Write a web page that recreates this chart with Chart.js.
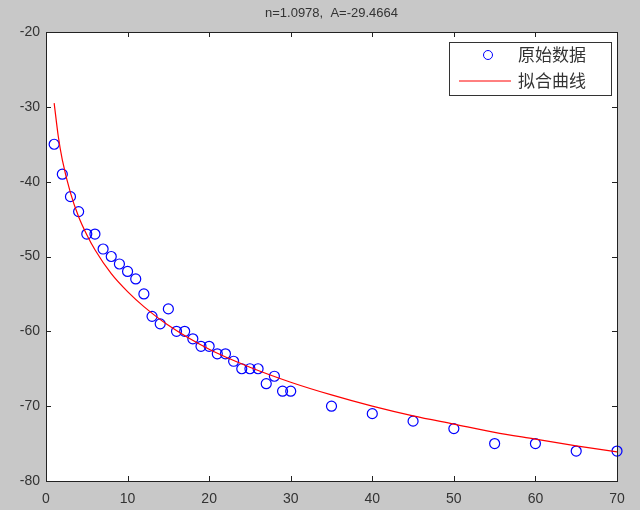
<!DOCTYPE html>
<html>
<head>
<meta charset="utf-8">
<script src="https://cdn.jsdelivr.net/npm/chart.js@4/dist/chart.umd.min.js"></script>
<style>
  html, body { margin: 0; padding: 0; background: #c8c8c8; }
  #wrap { width: 640px; height: 510px; }
</style>
</head>
<body>
<div id="wrap"><canvas id="fitChart"></canvas></div>
<script>
// raw measurements (distance, rssi)
const rawX = [1, 2, 3, 4, 5, 6, 7, 8, 9, 10, 11, 12, 13, 14, 15, 16, 17, 18, 19, 20,
              21, 22, 23, 24, 25, 26, 27, 28, 29, 30, 35, 40, 45, 50, 55, 60, 65, 70];
const rawY = [-35, -39, -42, -44, -47, -47, -49, -50, -51, -52, -53, -55, -58, -59, -57, -60, -60, -61, -62, -62,
              -63, -63, -64, -65, -65, -65, -67, -66, -68, -68, -70, -71, -72, -73, -75, -75, -76, -76];
// fitted curve
const fitX = [1, 1.5, 2, 3, 4, 5, 6, 8, 10, 12, 15, 20, 25, 30, 35, 40, 45, 50, 55, 60, 65, 70];
const fitY = [-29.5, -33.9, -37.1, -41.5, -44.7, -47.1, -49.1, -52.3, -54.7, -56.7, -59.2, -62.4,
              -64.8, -66.8, -68.5, -70.0, -71.3, -72.4, -73.5, -74.4, -75.3, -76.1];
const seriesNames = ['原始数据', '拟合曲线'];
const titleText = 'n=1.0978,  A=-29.4664';

const xTicks = [0, 10, 20, 30, 40, 50, 60, 70];
const yTicks = [-80, -70, -60, -50, -40, -30, -20];

const pts = (xs, ys) => xs.map((x, i) => ({ x: x, y: ys[i] }));

const axesBox = {
  id: 'axesBox',
  beforeDraw(chart) {
    const { ctx, chartArea: a } = chart;
    ctx.save();
    ctx.fillStyle = '#ffffff';
    ctx.fillRect(a.left, a.top, a.right - a.left, a.bottom - a.top);
    ctx.restore();
  },
  afterDraw(chart) {
    const { ctx, chartArea: a, scales } = chart;
    ctx.save();
    ctx.strokeStyle = '#222222';
    ctx.lineWidth = 1;
    ctx.strokeRect(a.left + 0.5, a.top + 0.5, a.right - a.left, a.bottom - a.top);
    ctx.beginPath();
    const t = 5;
    xTicks.forEach(v => {
      const px = Math.round(scales.x.getPixelForValue(v)) + 0.5;
      ctx.moveTo(px, a.bottom); ctx.lineTo(px, a.bottom - t);
      ctx.moveTo(px, a.top); ctx.lineTo(px, a.top + t);
    });
    yTicks.forEach(v => {
      const py = Math.round(scales.y.getPixelForValue(v)) + 0.5;
      ctx.moveTo(a.left, py); ctx.lineTo(a.left + t, py);
      ctx.moveTo(a.right, py); ctx.lineTo(a.right - t, py);
    });
    ctx.stroke();

    // title
    ctx.fillStyle = '#333333';
    ctx.font = '13px "Liberation Sans", Arial, sans-serif';
    ctx.textAlign = 'center';
    ctx.textBaseline = 'middle';
    ctx.fillText(titleText, (a.left + a.right) / 2, 13);

    // legend box inside the axes
    const lx = a.right - 168, ly = a.top + 10, lw = 162, lh = 53;
    ctx.fillStyle = '#ffffff';
    ctx.fillRect(lx, ly, lw, lh);
    ctx.strokeStyle = '#333333';
    ctx.strokeRect(lx + 0.5, ly + 0.5, lw, lh);
    const ds = chart.data.datasets;
    ctx.strokeStyle = ds[0].borderColor;
    ctx.beginPath();
    ctx.arc(lx + 39, ly + 13, 4.5, 0, Math.PI * 2);
    ctx.stroke();
    ctx.strokeStyle = ds[1].borderColor;
    ctx.beginPath();
    ctx.moveTo(lx + 10, ly + 39); ctx.lineTo(lx + 62, ly + 39);
    ctx.stroke();
    ctx.fillStyle = '#333333';
    ctx.font = '17px "Noto Sans CJK SC", sans-serif';
    ctx.textAlign = 'left';
    ctx.fillText(ds[0].label, lx + 69, ly + 13);
    ctx.fillText(ds[1].label, lx + 69, ly + 39);
    ctx.restore();
  }
};

new Chart(document.getElementById('fitChart'), {
  type: 'scatter',
  data: {
    datasets: [{
      label: seriesNames[0],
      data: pts(rawX, rawY),
      showLine: false,
      pointStyle: 'circle',
      pointRadius: 5,
      pointBorderWidth: 1.2,
      borderColor: '#0000ff',
      pointBorderColor: '#0000ff',
      backgroundColor: 'rgba(0,0,0,0)',
      pointBackgroundColor: 'rgba(0,0,0,0)',
      clip: false,
      order: 2
    }, {
      label: seriesNames[1],
      data: pts(fitX, fitY),
      showLine: true,
      pointRadius: 0,
      borderColor: '#ff0000',
      borderWidth: 1.2,
      cubicInterpolationMode: 'monotone',
      fill: false,
      order: 1
    }]
  },
  options: {
    responsive: true,
    maintainAspectRatio: false,
    animation: false,
    layout: { padding: { top: 32, right: 23, left: 0, bottom: 0 } },
    plugins: {
      legend: { display: false },
      title: { display: false },
      tooltip: { enabled: false }
    },
    scales: {
      x: {
        type: 'linear', min: 0, max: 70,
        afterFit: s => { s.height = 29; },
        afterBuildTicks: s => { s.ticks = xTicks.map(v => ({ value: v })); },
        grid: { display: false, drawTicks: false },
        border: { display: false },
        ticks: { color: '#333333', padding: 10, maxRotation: 0,
                 font: { family: '"Liberation Sans", Arial, sans-serif', size: 14 } }
      },
      y: {
        type: 'linear', min: -80, max: -20,
        afterFit: s => { s.width = 46; },
        afterBuildTicks: s => { s.ticks = yTicks.map(v => ({ value: v })); },
        grid: { display: false, drawTicks: false },
        border: { display: false },
        ticks: { color: '#333333', padding: 6,
                 font: { family: '"Liberation Sans", Arial, sans-serif', size: 14 } }
      }
    }
  },
  plugins: [axesBox]
});
</script>
</body>
</html>
